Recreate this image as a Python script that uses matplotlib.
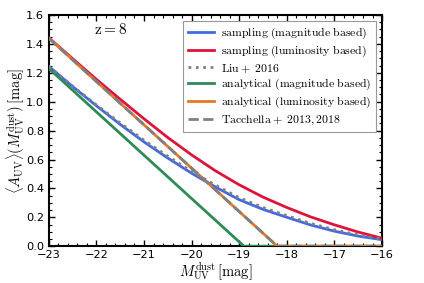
import numpy as np
import matplotlib
matplotlib.use("Agg")
import matplotlib.pyplot as plt
from matplotlib.ticker import MultipleLocator

plt.rcParams['mathtext.fontset'] = 'cm'
plt.rcParams['font.family'] = ['DejaVu Sans']

# Data
M_grid = [-23.0, -22.5, -22.0, -21.5, -21.0, -20.5, -20.0, -19.5,
          -19.0, -18.5, -18.0, -17.5, -17.0, -16.5, -16.0]
samp_mag = [1.245, 1.105, 0.972, 0.843, 0.722, 0.610, 0.505, 0.410,
            0.322, 0.255, 0.200, 0.147, 0.104, 0.070, 0.045]
samp_lum = [1.443, 1.298, 1.155, 1.017, 0.882, 0.752, 0.632, 0.522,
            0.425, 0.340, 0.268, 0.203, 0.148, 0.098, 0.055]
liu2016 = [1.245, 1.108, 0.978, 0.853, 0.734, 0.623, 0.518, 0.423,
           0.336, 0.268, 0.212, 0.158, 0.114, 0.078, 0.050]
ana_mag_M = [-23.0, -18.9, -16.0]
ana_mag = [1.23, 0.0, 0.0]
ana_lum_M = [-23.0, -18.2, -16.0]
ana_lum = [1.44, 0.0, 0.0]
tacchella = [1.44, 0.0, 0.0]

labels = [r'$\mathrm{sampling\ (magnitude\ based)}$',
          r'$\mathrm{sampling\ (luminosity\ based)}$',
          r'$\mathrm{Liu+\ 2016}$',
          r'$\mathrm{analytical\ (magnitude\ based)}$',
          r'$\mathrm{analytical\ (luminosity\ based)}$',
          r'$\mathrm{Tacchella+\ 2013, 2018}$']

fig = plt.figure(figsize=(4.24, 2.83), dpi=100)
ax = fig.add_axes([0.115, 0.13, 0.786, 0.817])

lw = 2.0
ax.plot(M_grid, samp_mag, color='#4169e1', lw=lw, label=labels[0], zorder=3)
ax.plot(M_grid, samp_lum, color='#dc143c', lw=lw, label=labels[1], zorder=3)
ax.plot(M_grid, liu2016, color='#808080', lw=lw, ls=':', label=labels[2], zorder=4)
ax.plot(ana_mag_M, ana_mag, color='#2e8b57', lw=lw, label=labels[3], zorder=3)
ax.plot(ana_lum_M, ana_lum, color='#e87722', lw=lw, label=labels[4], zorder=3)
ax.plot(ana_lum_M, tacchella, color='#808080', lw=lw, ls='--', label=labels[5], zorder=4)

ax.set_xlim(-23, -16)
ax.set_ylim(0, 1.6)
ax.xaxis.set_major_locator(MultipleLocator(1))
ax.xaxis.set_minor_locator(MultipleLocator(0.2))
ax.yaxis.set_major_locator(MultipleLocator(0.2))
ax.yaxis.set_minor_locator(MultipleLocator(0.05))
ax.tick_params(which='both', direction='in', top=True, right=True, labelsize=8.2)
ax.tick_params(which='major', length=4, width=1)
ax.tick_params(which='minor', length=2, width=0.8)
ax.tick_params(axis='x', which='major', pad=2.5)
ax.tick_params(axis='y', which='major', pad=3.5)
for s in ax.spines.values():
    s.set_linewidth(1.5)

ax.set_xlabel(r'$M_{\rm UV}^{\rm dust}\,[\rm mag]$', fontsize=10.5, labelpad=0)
ax.set_ylabel(r'$\langle A_{\rm UV}\rangle(M_{\rm UV}^{\rm dust})\,[\rm mag]$', fontsize=10.5, labelpad=-1)

ax.text(-21.7, 1.5, r'$\mathrm{z=8}$', fontsize=11, ha='center', va='center')

leg = ax.legend(loc='upper right', fontsize=8.5, frameon=True, fancybox=False,
                edgecolor='#808080', handlelength=2.2, borderaxespad=0.5,
                labelspacing=0.22, borderpad=0.4, handletextpad=0.6)
leg.get_frame().set_linewidth(0.8)

fig.savefig('out.png', dpi=100)
